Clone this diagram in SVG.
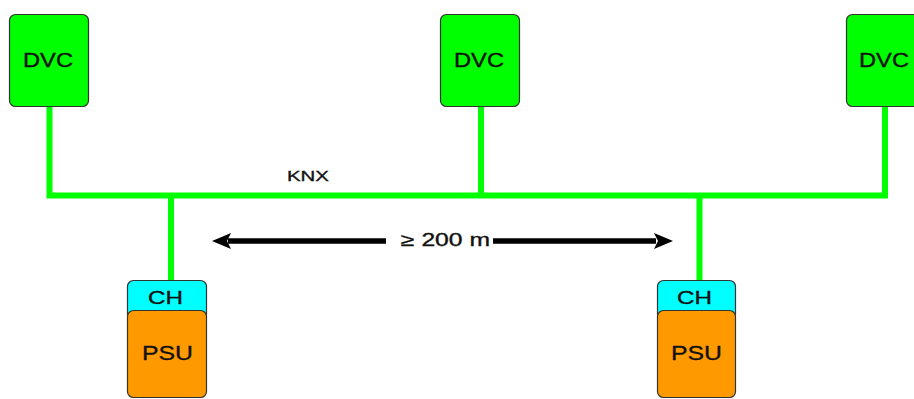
<svg xmlns="http://www.w3.org/2000/svg" width="914" height="399" viewBox="0 0 914 399">
  <style>
    .dvc { fill: #00ff00; stroke: #333333; stroke-width: 1.2; }
    .ch { fill: #00ffff; stroke: #333333; stroke-width: 1.2; }
    .psu { fill: #ff9900; stroke: #333333; stroke-width: 1.2; }
    .bus { stroke: #00ff00; stroke-width: 6; fill: none; stroke-linecap: butt; stroke-linejoin: miter; }
    .lbl { font-family: "Liberation Sans", Arial, sans-serif; fill: #111111; stroke: #111111; stroke-width: 0.35; text-anchor: start; }
    .dim { stroke: #000000; stroke-width: 5.5; fill: none; }
  </style>

  <g id="connectors">
    <!-- KNX bus line with drops to devices and couplers -->
    <path class="bus" d="M49.5,106 V195.5 H885 V106"/>
    <path class="bus" d="M481,106 V195.5"/>
    <path class="bus" d="M171,195.5 V284"/>
    <path class="bus" d="M699.5,195.5 V284"/>
    <text class="lbl" x="287" y="181" font-size="15" textLength="42" lengthAdjust="spacingAndGlyphs">KNX</text>
    <!-- distance dimension -->
    <line class="dim" x1="228" y1="241" x2="386" y2="241"/>
    <line class="dim" x1="493" y1="241" x2="656" y2="241"/>
    <path d="M212,241 L231,233 L227,241 L231,249 Z" fill="#000000"/>
    <path d="M673,241 L654,233 L658,241 L654,249 Z" fill="#000000"/>
    <text class="lbl" x="401" y="246" font-size="18" textLength="89" lengthAdjust="spacingAndGlyphs">≥ 200 m</text>
  </g>

  <g id="dvc1">
    <rect class="dvc" x="9.5" y="14.5" width="79" height="92" rx="6"/>
    <text class="lbl" x="23" y="67" font-size="21" textLength="50" lengthAdjust="spacingAndGlyphs">DVC</text>
  </g>
  <g id="dvc2">
    <rect class="dvc" x="440.5" y="14.5" width="79" height="92" rx="6"/>
    <text class="lbl" x="454" y="67" font-size="21" textLength="50" lengthAdjust="spacingAndGlyphs">DVC</text>
  </g>
  <g id="dvc3">
    <rect class="dvc" x="846.5" y="14.5" width="79" height="92" rx="6"/>
    <text class="lbl" x="859" y="67" font-size="21" textLength="50" lengthAdjust="spacingAndGlyphs">DVC</text>
  </g>

  <g id="supply1">
    <rect class="ch" x="127.5" y="280.5" width="79" height="40" rx="6"/>
    <text class="lbl" x="148" y="304" font-size="18" textLength="35" lengthAdjust="spacingAndGlyphs">CH</text>
    <rect class="psu" x="127.5" y="310.5" width="79" height="87" rx="6"/>
    <text class="lbl" x="142" y="360" font-size="21" textLength="51" lengthAdjust="spacingAndGlyphs">PSU</text>
  </g>
  <g id="supply2">
    <rect class="ch" x="657.5" y="280.5" width="78" height="40" rx="6"/>
    <text class="lbl" x="677" y="304" font-size="18" textLength="35" lengthAdjust="spacingAndGlyphs">CH</text>
    <rect class="psu" x="657.5" y="310.5" width="78" height="87" rx="6"/>
    <text class="lbl" x="671" y="360" font-size="21" textLength="51" lengthAdjust="spacingAndGlyphs">PSU</text>
  </g>
</svg>
